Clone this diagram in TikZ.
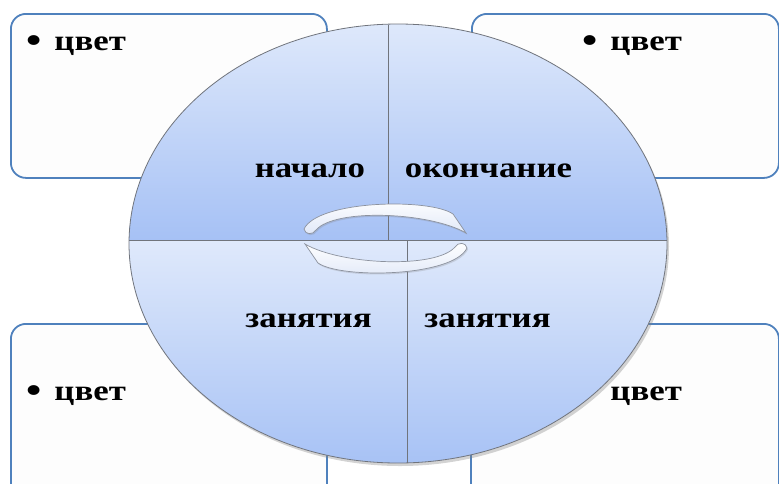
\documentclass[tikz,border=0pt]{standalone}
\usepackage{fontspec}
\setmainfont{Liberation Serif}[FakeStretch=1.2]
\usetikzlibrary{shadows}
\definecolor{boxline}{RGB}{79,129,189}
\definecolor{boxfill}{RGB}{253,253,253}
\definecolor{quadlight}{RGB}{223,233,251}
\definecolor{quaddark}{RGB}{166,193,245}
\definecolor{rimgray}{RGB}{112,116,124}
\definecolor{bandline}{RGB}{140,146,158}
\definecolor{bandfill}{RGB}{224,232,248}

\begin{document}
\begin{tikzpicture}[
  x=1pt, y=-1pt,
  card/.style={draw=boxline,line width=1.8pt,fill=boxfill,rounded corners=15pt,anchor=north west,inner sep=0pt},
  word/.style={font=\bfseries\fontsize{29}{30}\selectfont,inner sep=0pt,anchor=base},
  item/.style={word,anchor=base west},
  divider/.style={draw=rimgray,line width=0.9pt},
  band/.style={draw=bandline,line width=0.7pt,top color=white,bottom color=bandfill,
    drop shadow={shadow xshift=1pt,shadow yshift=-1.5pt,opacity=0.25}}
]
  \useasboundingbox (0,0) rectangle (779,483);

  % four cards behind the disc
  \node[card,minimum width=316pt,minimum height=164pt] (cardTL) at (10,13) {};
  \node[card,minimum width=307pt,minimum height=164pt] (cardTR) at (471,13) {};
  \node[card,minimum width=316pt,minimum height=180pt] (cardBL) at (10,323) {};
  \node[card,minimum width=308pt,minimum height=180pt] (cardBR) at (470,323) {};

  \node[item] (itemTL) at (26,50) {\raisebox{-0.07em}{\scalebox{1.25}{•}}\hspace{0.45em}цвет};
  \node[item] (itemTR) at (582,50) {\raisebox{-0.07em}{\scalebox{1.25}{•}}\hspace{0.45em}цвет};
  \node[item] (itemBL) at (26,400) {\raisebox{-0.07em}{\scalebox{1.25}{•}}\hspace{0.45em}цвет};
  \node[item] (itemBR) at (582,400) {\raisebox{-0.07em}{\scalebox{1.25}{•}}\hspace{0.45em}цвет};

  % the disc
  \coordinate (c) at (398,243.5);
  \fill[white,drop shadow={shadow xshift=2pt,shadow yshift=-3pt,opacity=0.35}]
    (c) ellipse [x radius=269,y radius=219.5];
  \begin{scope}
    \clip (c) ellipse [x radius=269,y radius=219.5];
    \shade[top color=quadlight,bottom color=quaddark] (120,20) rectangle (680,240);
    \shade[top color=quadlight,bottom color=quaddark] (120,240) rectangle (680,470);
  \end{scope}
  \draw[rimgray,line width=0.8pt] (c) ellipse [x radius=269,y radius=219.5];

  \coordinate (midL) at (129,240);
  \coordinate (midR) at (667,240);
  \coordinate (topV) at (388,25);
  \coordinate (topE) at (388,240);
  \coordinate (botV) at (407,240);
  \coordinate (botE) at (407,463);
  \draw[divider] (midL) -- (midR);
  \draw[divider] (topV) -- (topE);
  \draw[divider] (botV) -- (botE);

  \node[word] (start) at (310,177) {начало};
  \node[word] (finish) at (488.5,177) {окончание};
  \node[word] (lessonL) at (308.5,327) {занятия};
  \node[word] (lessonR) at (487.5,327) {занятия};

  % circular arrows
  \path[band] (304,229) .. controls (318,200) and (430,198) .. (453,214) -- (466,233)
    .. controls (430,212) and (335,208) .. (316,230)
    .. controls (313,235) and (305,235) .. (304,229) -- cycle;
  \begin{scope}[rotate around={180:(385.5,238.5)}]
    \path[band] (304,229) .. controls (318,200) and (430,198) .. (453,214) -- (466,233)
      .. controls (430,212) and (335,208) .. (316,230)
      .. controls (313,235) and (305,235) .. (304,229) -- cycle;
  \end{scope}
\end{tikzpicture}
\end{document}
